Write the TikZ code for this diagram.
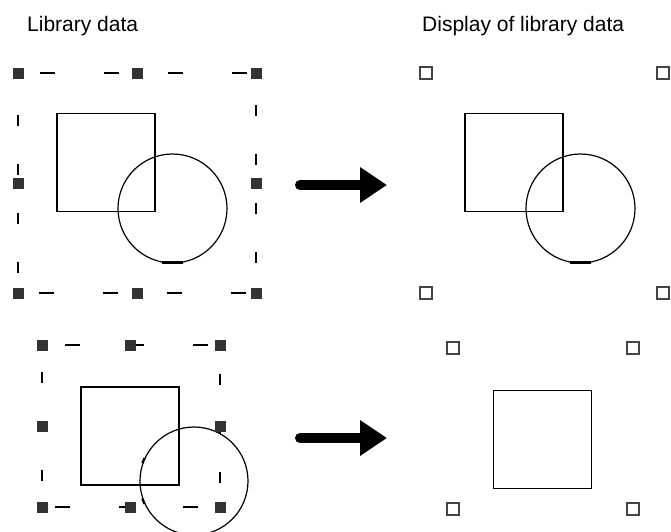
\documentclass[tikz,border=0pt]{standalone}
\usepackage{fontspec}
\setmainfont{Liberation Sans}
\usepackage{xcolor}
\usepackage{tikz}
\usetikzlibrary{arrows.meta,backgrounds}
\definecolor{handlegray}{HTML}{333333}
\definecolor{rimgray}{HTML}{444444}
\tikzset{
  arr/.style={-{Triangle[length=27pt,width=34pt]},line width=10pt,line cap=round},
  hnd/.style={rectangle,fill=handlegray,minimum size=11pt,inner sep=0pt},
  ohnd/.style={rectangle,draw=rimgray,fill=white,line width=2pt,
    minimum size=12pt,inner sep=0pt},
  hfrm/.style={line width=1.4pt,dash pattern=on 15pt off 49pt,dash phase=42pt},
  vfrm/.style={line width=1.4pt,dash pattern=on 11pt off 38pt,dash phase=16pt},
  sq/.style={rectangle,draw,line width=1.5pt,minimum size=98pt,inner sep=0pt},
  cir/.style={circle,draw,line width=1.2pt,minimum size=109pt,inner sep=0pt},
  lbl/.style={font=\fontsize{21}{25}\selectfont,inner sep=0pt,anchor=base west},
}

\begin{document}
\begin{tikzpicture}[x=1pt,y=-1pt]
\useasboundingbox (0,0) rectangle (671,531);
\clip (0,0) rectangle (671,531);

\node[lbl] (tl) at (27,31) {Library data};
\node[lbl] (tr) at (422,31) {Display of library data};

\node[sq] (sqA) at (106,162.5) {};
\node[cir] (ciA) at (172.5,208.5) {};
\draw[line width=2.5pt] (ciA.259) -- (ciA.281);
\foreach \n/\x/\y in {a1/18/73,a2/137/73,a3/256/73,a4/18/183,a6/256/183,
  a7/18/293,a8/137/293,a9/256/293}
  \node[hnd] (\n) at (\x,\y) {};

\node[sq] (sqB) at (514,162.5) {};
\node[cir] (ciB) at (580.5,208.5) {};
\draw[line width=2.5pt] (ciB.259) -- (ciB.281);
\foreach \n/\x/\y in {c1/426/73,c3/663/73,c7/426/293,c9/663/293}
  \node[ohnd] (\n) at (\x,\y) {};

\node[sq] (sqC) at (130,436) {};
\node[cir,minimum size=108pt] (ciC) at (194,481) {};
\draw[line width=2.2pt] (ciC.155) -- (ciC.161);
\draw[line width=2.2pt] (ciC.199) -- (ciC.205);
\foreach \n/\x/\y in {b1/42/345,b2/130/345,b3/220/345,b4/42/426,b6/220/426,
  b7/42/507,b8/130/507,b9/220/507}
  \node[hnd] (\n) at (\x,\y) {};

\node[sq] (sqD) at (542.5,439.5) {};
\foreach \n/\x/\y in {d1/453/348,d3/633/348,d7/453/509,d9/633/509}
  \node[ohnd] (\n) at (\x,\y) {};

\begin{scope}[on background layer]
\draw[hfrm] (a1.center) -- (a3.center);
\draw[hfrm,dash phase=43pt] (a7.center) -- (a9.center);
\draw[vfrm,dash phase=7pt] (a1.center) -- (a7.center);
\draw[vfrm,dash phase=17pt] (a3.center) -- (a9.center);
\draw[hfrm,dash phase=41pt] (b1.center) -- (b3.center);
\draw[hfrm,dash phase=51pt] (b7.center) -- (b9.center);
\draw[vfrm,dash phase=22pt] (b1.center) -- (b7.center);
\draw[vfrm,dash phase=20pt] (b3.center) -- (b9.center);
\end{scope}

\coordinate (p1) at (300,185);
\coordinate (q1) at (387,185);
\coordinate (p2) at (300,438);
\coordinate (q2) at (387,438);
\draw[arr] (p1) -- (q1);
\draw[arr] (p2) -- (q2);
\end{tikzpicture}
\end{document}
